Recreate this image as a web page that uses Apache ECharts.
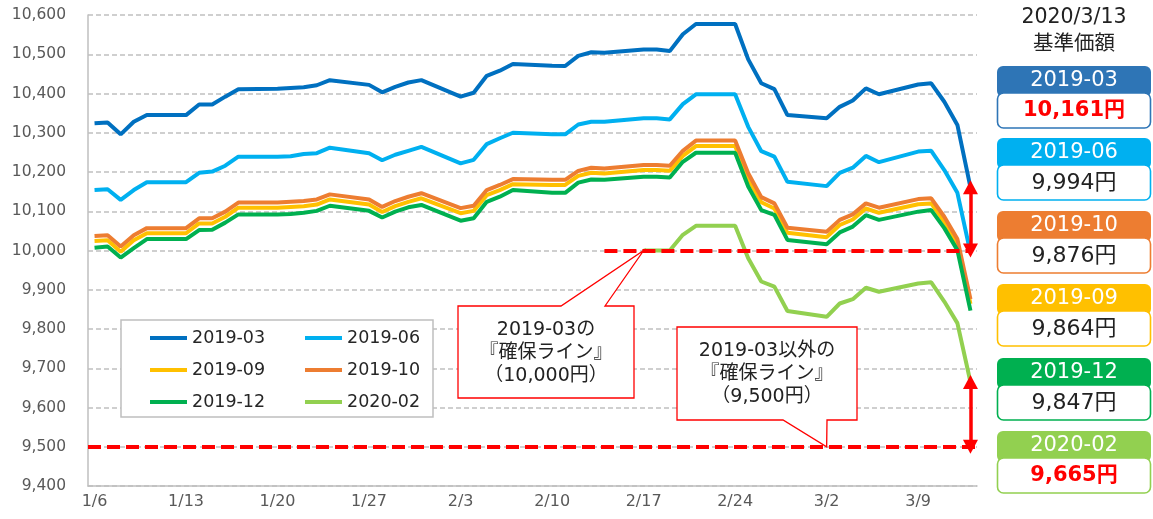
<!DOCTYPE html>
<html>
<head>
<meta charset="utf-8">
<script src="https://cdn.jsdelivr.net/npm/echarts@6/dist/echarts.min.js"></script>
<style>
  html, body { margin: 0; padding: 0; background: #fff; }
  #main { width: 1153px; height: 519px; }
</style>
</head>
<body>
<div id="main"></div>
<script>
// 日付（カレンダー日、土日は null）
var dates = [
  "1/6","1/7","1/8","1/9","1/10","1/11","1/12","1/13","1/14","1/15","1/16","1/17","1/18","1/19",
  "1/20","1/21","1/22","1/23","1/24","1/25","1/26","1/27","1/28","1/29","1/30","1/31","2/1","2/2",
  "2/3","2/4","2/5","2/6","2/7","2/8","2/9","2/10","2/11","2/12","2/13","2/14","2/15","2/16",
  "2/17","2/18","2/19","2/20","2/21","2/22","2/23","2/24","2/25","2/26","2/27","2/28","2/29","3/1",
  "3/2","3/3","3/4","3/5","3/6","3/7","3/8","3/9","3/10","3/11","3/12","3/13"
];

var s201903 = [
  10324, 10326, 10296, 10328, 10345, null, null,
  10345, 10372, 10372, 10392, 10411, null, null,
  10412, 10414, 10416, 10421, 10434, null, null,
  10422, 10403, 10417, 10428, 10434, null, null,
  10392, 10402, 10445, 10458, 10475, null, null,
  10471, 10470, 10496, 10505, 10504, null, null,
  10512, 10512, 10508, 10551, 10577, null, null,
  10577, 10487, 10426, 10411, 10345, null, null,
  10337, 10366, 10382, 10413, 10398, null, null,
  10423, 10426, 10379, 10320, 10161
];
var s201906 = [
  10154, 10156, 10129, 10154, 10174, null, null,
  10174, 10198, 10201, 10216, 10239, null, null,
  10239, 10240, 10246, 10248, 10262, null, null,
  10248, 10230, 10244, 10254, 10264, null, null,
  10222, 10231, 10271, 10286, 10300, null, null,
  10296, 10296, 10321, 10328, 10328, null, null,
  10337, 10337, 10334, 10373, 10398, null, null,
  10398, 10315, 10253, 10239, 10175, null, null,
  10164, 10198, 10211, 10241, 10225, null, null,
  10252, 10254, 10205, 10147, 9994
];
var s201909 = [
  10024, 10026, 9997, 10026, 10044, null, null,
  10044, 10069, 10069, 10086, 10109, null, null,
  10109, 10111, 10113, 10117, 10130, null, null,
  10117, 10098, 10113, 10124, 10133, null, null,
  10095, 10101, 10141, 10154, 10169, null, null,
  10167, 10167, 10190, 10198, 10196, null, null,
  10205, 10205, 10203, 10241, 10266, null, null,
  10266, 10183, 10123, 10107, 10045, null, null,
  10034, 10065, 10079, 10107, 10096, null, null,
  10118, 10120, 10073, 10016, 9864
];
var s201910 = [
  10037, 10039, 10010, 10039, 10057, null, null,
  10057, 10082, 10082, 10099, 10122, null, null,
  10122, 10124, 10126, 10130, 10143, null, null,
  10130, 10111, 10126, 10137, 10146, null, null,
  10108, 10114, 10154, 10167, 10182, null, null,
  10180, 10180, 10203, 10211, 10209, null, null,
  10218, 10218, 10216, 10254, 10280, null, null,
  10280, 10197, 10136, 10120, 10058, null, null,
  10048, 10078, 10092, 10120, 10109, null, null,
  10131, 10133, 10086, 10029, 9876
];
var s201912 = [
  10007, 10010, 9982, 10006, 10029, null, null,
  10029, 10052, 10053, 10071, 10092, null, null,
  10092, 10093, 10096, 10101, 10114, null, null,
  10101, 10084, 10099, 10110, 10116, null, null,
  10076, 10082, 10124, 10137, 10154, null, null,
  10147, 10147, 10173, 10181, 10180, null, null,
  10188, 10188, 10186, 10226, 10249, null, null,
  10249, 10163, 10103, 10091, 10027, null, null,
  10016, 10046, 10061, 10090, 10078, null, null,
  10099, 10103, 10057, 10001, 9847
];
var s202002 = [
  null, null, null, null, null, null, null,
  null, null, null, null, null, null, null,
  null, null, null, null, null, null, null,
  null, null, null, null, null, null, null,
  null, null, null, null, null, null, null,
  null, null, null, null, null, null, null,
  10000, 10000, 10000, 10040, 10063, null, null,
  10063, 9980, 9921, 9908, 9846, null, null,
  9831, 9865, 9876, 9905, 9895, null, null,
  9916, 9919, 9870, 9815, 9665
];

var lineA = 10000;   // 2019-03 の確保ライン
var lineB = 9500;    // それ以外の確保ライン

// 右側パネル（基準価額の大きい順）
var panelNames = ["2019-03", "2019-06", "2019-10", "2019-09", "2019-12", "2020-02"];
var panelValues = [10161, 9994, 9876, 9864, 9847, 9665];
var panelRed = [true, false, false, false, false, true];

var FONT = '"DejaVu Sans", "Noto Sans CJK JP", sans-serif';
var colors = {
  "2019-03": "#0070c0",
  "2019-06": "#00b0f0",
  "2019-09": "#ffc000",
  "2019-10": "#ed7d31",
  "2019-12": "#00b050",
  "2020-02": "#92d050"
};
var headColors = {
  "2019-03": "#2e75b6",
  "2019-06": "#00b0f0",
  "2019-09": "#ffc000",
  "2019-10": "#ed7d31",
  "2019-12": "#00b050",
  "2020-02": "#92d050"
};

function makeLine(name, data) {
  return {
    name: name,
    type: "line",
    data: data,
    connectNulls: true,
    symbol: "none",
    lineStyle: { width: 4, color: colors[name] },
    itemStyle: { color: colors[name] },
    emphasis: { disabled: true }
  };
}

var myChart = echarts.init(document.getElementById("main"));

var last = makeLine("2020-02", s202002);
last.markLine = {
  silent: true,
  symbol: "none",
  label: { show: false },
  lineStyle: { color: "#ff0000", width: 4, type: [13, 6] },
  data: [
    { yAxis: lineB },
    [{ coord: ["2/14", lineA] }, { coord: ["3/13", lineA] }],
    [
      { coord: ["3/13", 10161], symbol: "triangle", symbolSize: [15, 14],
        lineStyle: { color: "#ff0000", width: 3.5, type: "solid" } },
      { coord: ["3/13", lineA], symbol: "triangle", symbolSize: [15, 14] }
    ],
    [
      { coord: ["3/13", 9665], symbol: "triangle", symbolSize: [15, 14],
        lineStyle: { color: "#ff0000", width: 3.5, type: "solid" } },
      { coord: ["3/13", lineB], symbol: "triangle", symbolSize: [15, 14] }
    ]
  ]
};

var legendText = { fontSize: 17.5, color: "#262626", fontFamily: FONT, lineHeight: 20 };

var option = {
  animation: false,
  grid: { left: 88, right: 176, top: 15, bottom: 33 },
  legend: [
    {
      data: ["2019-03", "2019-09", "2019-12"],
      orient: "vertical", left: 145, top: 323, itemGap: 12,
      itemWidth: 37, itemHeight: 4, icon: "rect", selectedMode: false,
      textStyle: legendText, z: 5
    },
    {
      data: ["2019-06", "2019-10", "2020-02"],
      orient: "vertical", left: 300, top: 323, itemGap: 12,
      itemWidth: 37, itemHeight: 4, icon: "rect", selectedMode: false,
      textStyle: legendText, z: 5
    }
  ],
  xAxis: {
    type: "category",
    data: dates,
    boundaryGap: true,
    axisLine: { lineStyle: { color: "#bfbfbf", width: 1.5 } },
    axisTick: { interval: 6, length: 5, lineStyle: { color: "#bfbfbf", width: 1.5 } },
    axisLabel: { interval: 6, color: "#595959", fontSize: 16, fontFamily: FONT, margin: 8 },
    splitLine: { show: false }
  },
  yAxis: {
    type: "value",
    min: 9400,
    max: 10600,
    interval: 100,
    axisLine: { show: true, lineStyle: { color: "#bfbfbf", width: 1.5 } },
    axisTick: { show: false },
    axisLabel: {
      color: "#595959", fontSize: 15.5, fontFamily: FONT, margin: 22,
      formatter: function (v) { return v.toLocaleString("en-US"); }
    },
    splitLine: { lineStyle: { color: "#c0c0c0", width: 1.5, type: [5, 3] } }
  },
  series: [
    makeLine("2019-03", s201903),
    makeLine("2019-06", s201906),
    makeLine("2019-09", s201909),
    makeLine("2019-10", s201910),
    makeLine("2019-12", s201912),
    last
  ]
};

myChart.setOption(option);

// 吹き出しと右パネル
var tip1 = myChart.convertToPixel({ xAxisIndex: 0, yAxisIndex: 0 }, ["2/17", lineA]);
var tip2 = myChart.convertToPixel({ xAxisIndex: 0, yAxisIndex: 0 }, ["3/2", lineB]);

var g = [];

// 凡例の枠
g.push({
  type: "rect", z: 3,
  shape: { x: 121, y: 320, width: 312, height: 97 },
  style: { fill: "#fff", stroke: "#bfbfbf", lineWidth: 1.5 }
});

// 吹き出し1
g.push({
  type: "polygon", z: 3,
  shape: { points: [[458, 306], [561, 306], tip1, [605, 306], [634, 306], [634, 398], [458, 398]] },
  style: { fill: "#fff", stroke: "#ff0000", lineWidth: 1.3 }
});
g.push({
  type: "text", z: 4,
  style: {
    text: "2019-03の\n『確保ライン』\n（10,000円）",
    x: 546, y: 353, align: "center", verticalAlign: "middle",
    fontSize: 19, lineHeight: 23, fontFamily: FONT, fill: "#222"
  }
});

// 吹き出し2
g.push({
  type: "polygon", z: 3,
  shape: { points: [[677, 327], [857, 327], [857, 420], [827, 420], tip2, [783, 420], [677, 420]] },
  style: { fill: "#fff", stroke: "#ff0000", lineWidth: 1.3 }
});
g.push({
  type: "text", z: 4,
  style: {
    text: "2019-03以外の\n『確保ライン』\n（9,500円）",
    x: 767, y: 374, align: "center", verticalAlign: "middle",
    fontSize: 19, lineHeight: 23, fontFamily: FONT, fill: "#222"
  }
});

// 右パネル見出し
g.push({
  type: "text",
  style: {
    text: "2020/3/13\n基準価額", x: 1074, y: 31, align: "center", verticalAlign: "middle",
    fontSize: 20.5, lineHeight: 27, fontFamily: FONT, fill: "#222"
  }
});

var tops = [66, 138, 211, 284, 358, 431];
panelNames.forEach(function (nm, i) {
  var t = tops[i];
  var c = headColors[nm];
  g.push({
    type: "rect",
    shape: { x: 997, y: t, width: 154, height: 31, r: 6 },
    style: { fill: c }
  });
  g.push({
    type: "rect",
    shape: { x: 997.5, y: t + 27, width: 153, height: 35, r: 6 },
    style: { fill: "#fff", stroke: c, lineWidth: 1.6 }
  });
  g.push({
    type: "text",
    style: {
      text: nm, x: 1074, y: t + 15, align: "center", verticalAlign: "middle",
      fontSize: 21, fontFamily: FONT, fill: "#fff"
    }
  });
  g.push({
    type: "text",
    style: {
      text: panelValues[i].toLocaleString("en-US") + "円",
      x: 1074, y: t + 45, align: "center", verticalAlign: "middle",
      fontSize: panelRed[i] ? 21 : 22, fontWeight: panelRed[i] ? "bold" : "normal",
      fontFamily: FONT, fill: panelRed[i] ? "#ff0000" : "#222"
    }
  });
});

myChart.setOption({ graphic: g });
</script>
</body>
</html>
